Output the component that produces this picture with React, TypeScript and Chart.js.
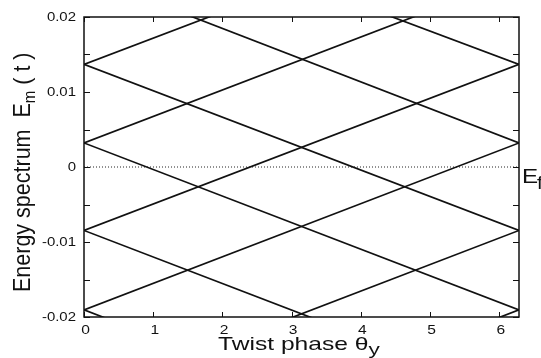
import React, { useEffect, useRef } from 'react';
import { Chart, registerables } from 'chart.js';

Chart.register(...registerables);

// Twist phase range (0 .. 2π)
const phaseRange = [0, 6.2832];

// Energy levels read at θ = 0 and θ = 2π (values beyond ±0.02 are clipped by the frame)
const risingStart = [-0.0413, -0.0307, -0.01905, -0.00846, 0.00321, 0.01368];
const risingEnd = [-0.01905, -0.00846, 0.00321, 0.01368, 0.0254, 0.0357];
const fallingStart = [0.0354, 0.0256, 0.01368, 0.00321, -0.00846, -0.01905];
const fallingEnd = [0.01368, 0.00321, -0.00846, -0.01905, -0.0307, -0.0413];
const fermiLevel = [0, 0];

const xTickValues = [0, 1, 2, 3, 4, 5, 6];
const xTickLabels = ['0', '1', '2', '3', '4', '5', '6'];
const yTickValues = [-0.02, -0.015, -0.01, -0.005, 0, 0.005, 0.01, 0.015, 0.02];
const yLabelValues = [0.02, 0.01, 0, -0.01, -0.02];
const yLabelTexts = ['0.02', '0.01', '0', '-0.01', '-0.02'];

const FONT = '"Liberation Sans", Arial, Helvetica, sans-serif';
const INK = '#111111';

const framePlugin = {
  id: 'framePlugin',
  afterDraw(chart: any) {
    const { ctx, chartArea } = chart;
    const { left, right, top, bottom } = chartArea;
    const xs = chart.scales.x;
    const ys = chart.scales.y;
    ctx.save();
    // frame
    ctx.strokeStyle = INK;
    ctx.lineWidth = 1.5;
    ctx.strokeRect(left, top, right - left, bottom - top);
    // ticks (inward, all sides)
    ctx.lineWidth = 1;
    ctx.beginPath();
    xTickValues.forEach((v) => {
      const px = Math.round(xs.getPixelForValue(v)) + 0.5;
      ctx.moveTo(px, bottom);
      ctx.lineTo(px, bottom - 5);
      ctx.moveTo(px, top);
      ctx.lineTo(px, top + 5);
    });
    yTickValues.forEach((v) => {
      const py = Math.round(ys.getPixelForValue(v)) + 0.5;
      ctx.moveTo(left, py);
      ctx.lineTo(left + 6, py);
      ctx.moveTo(right, py);
      ctx.lineTo(right - 6, py);
    });
    ctx.stroke();

    ctx.fillStyle = INK;
    // x tick labels
    ctx.font = `13px ${FONT}`;
    ctx.textAlign = 'center';
    ctx.textBaseline = 'alphabetic';
    xTickValues.forEach((v, i) => {
      const px = xs.getPixelForValue(v) + 1.5;
      ctx.save();
      ctx.translate(px, 333.5);
      ctx.scale(1.2, 1);
      ctx.fillText(xTickLabels[i], 0, 0);
      ctx.restore();
    });
    // y tick labels
    ctx.textAlign = 'right';
    ctx.textBaseline = 'middle';
    yLabelValues.forEach((v, i) => {
      const py = ys.getPixelForValue(v) + 0.5;
      ctx.save();
      ctx.translate(76, py);
      ctx.scale(1.15, 1);
      ctx.fillText(yLabelTexts[i], 0, 0);
      ctx.restore();
    });

    // x title: Twist phase θ_y
    ctx.textAlign = 'left';
    ctx.textBaseline = 'alphabetic';
    ctx.save();
    ctx.translate(218, 350);
    ctx.scale(1.33, 1);
    ctx.font = `18.5px ${FONT}`;
    const mainX = 'Twist phase θ';
    ctx.fillText(mainX, 0, 0);
    const wX = ctx.measureText(mainX).width;
    ctx.font = `17px ${FONT}`;
    ctx.fillText('y', wX, 5);
    ctx.restore();

    // y title: Energy spectrum  E_m ( t )
    ctx.save();
    ctx.translate(30, 292);
    ctx.rotate(-Math.PI / 2);
    ctx.scale(1.0, 1.14);
    ctx.font = `21.5px ${FONT}`;
    const part1 = 'Energy spectrum  E';
    ctx.fillText(part1, 0, 0);
    let off = ctx.measureText(part1).width;
    ctx.font = `15px ${FONT}`;
    ctx.fillText('m', off, 4);
    off += ctx.measureText('m').width;
    ctx.font = `21.5px ${FONT}`;
    ctx.fillText(' ( t )', off, 0);
    ctx.restore();

    // Fermi level label E_f
    ctx.save();
    ctx.translate(522, 183);
    ctx.scale(1.15, 1);
    ctx.font = `21px ${FONT}`;
    ctx.fillText('E', 0, 0);
    const wE = ctx.measureText('E').width;
    ctx.font = `18px ${FONT}`;
    ctx.fillText('f', wE - 1, 6);
    ctx.restore();

    ctx.restore();
  },
};

export default function App() {
  const canvasRef = useRef<HTMLCanvasElement | null>(null);

  useEffect(() => {
    document.body.style.margin = '0';
    const canvas = canvasRef.current;
    if (!canvas) return;

    const lineStyle = {
      borderColor: INK,
      borderWidth: 1.7,
      pointRadius: 0,
      fill: false,
      tension: 0,
      clip: 0,
    };

    const datasets: any[] = [];
    risingStart.forEach((v, i) => {
      datasets.push({
        ...lineStyle,
        data: [
          { x: phaseRange[0], y: v },
          { x: phaseRange[1], y: risingEnd[i] },
        ],
      });
    });
    fallingStart.forEach((v, i) => {
      datasets.push({
        ...lineStyle,
        data: [
          { x: phaseRange[0], y: v },
          { x: phaseRange[1], y: fallingEnd[i] },
        ],
      });
    });
    datasets.push({
      borderColor: '#222222',
      borderWidth: 1,
      borderDash: [1, 2],
      pointRadius: 0,
      fill: false,
      clip: 0,
      data: [
        { x: phaseRange[0], y: fermiLevel[0] },
        { x: phaseRange[1], y: fermiLevel[1] },
      ],
    });

    const chart = new Chart(canvas, {
      type: 'line',
      data: { datasets },
      options: {
        responsive: false,
        animation: false,
        maintainAspectRatio: false,
        layout: { padding: { left: 84, right: 22, top: 17, bottom: 41 } },
        plugins: {
          legend: { display: false },
          tooltip: { enabled: false },
          title: { display: false },
        },
        scales: {
          x: { type: 'linear', min: phaseRange[0], max: phaseRange[1], display: false },
          y: { type: 'linear', min: -0.02, max: 0.02, display: false },
        },
        events: [],
      },
      plugins: [framePlugin],
    });

    return () => {
      chart.destroy();
    };
  }, []);

  return (
    <div style={{ width: 541, height: 358, background: '#ffffff' }}>
      <canvas ref={canvasRef} width={541} height={358} />
    </div>
  );
}
